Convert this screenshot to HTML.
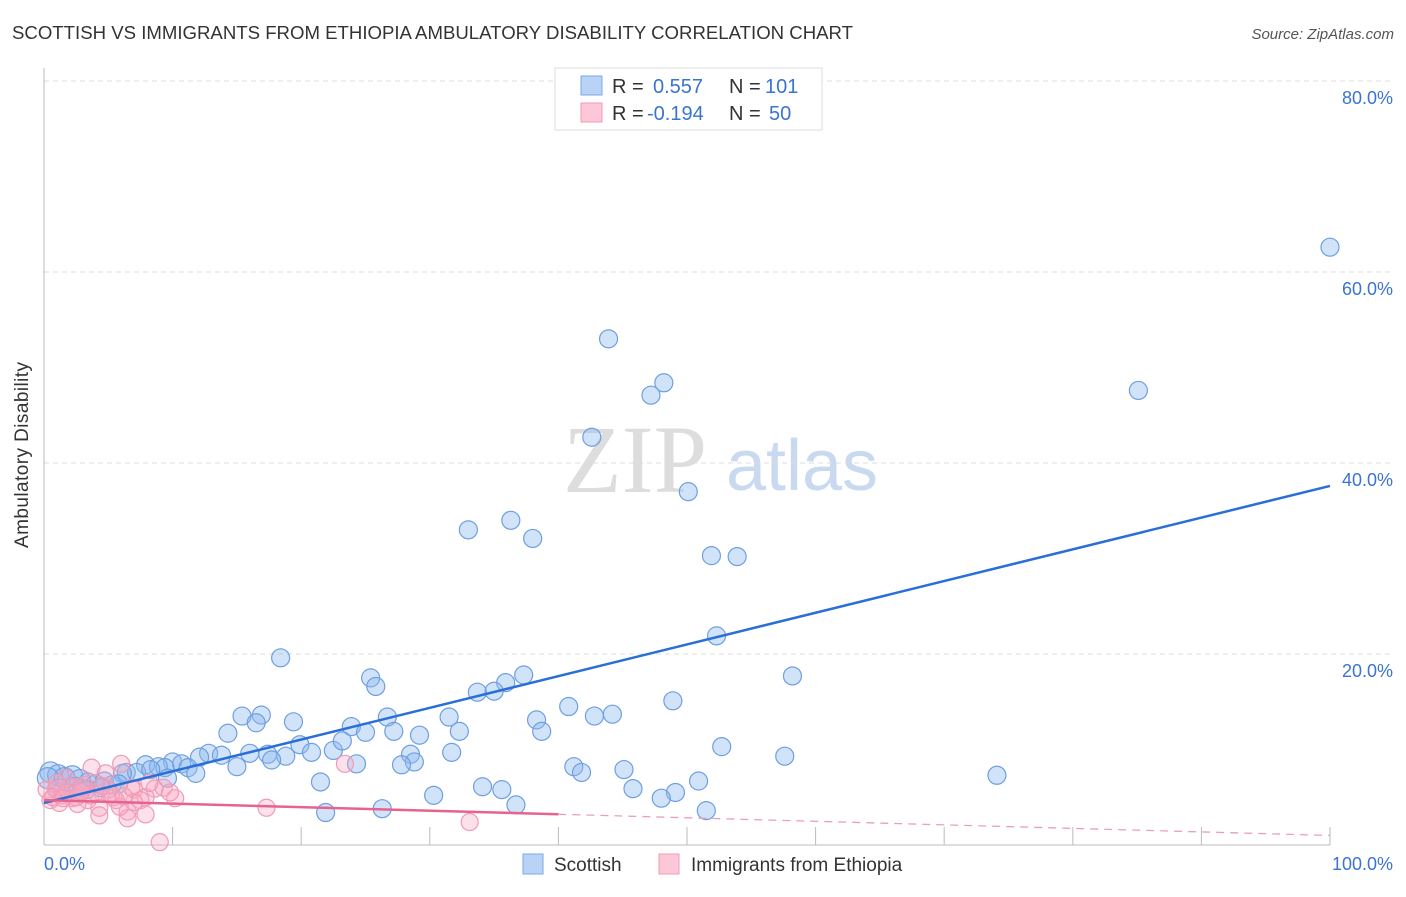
<!DOCTYPE html>
<html><head><meta charset="utf-8"><style>
body{margin:0;background:#fff;font-family:"Liberation Sans",sans-serif}
svg text{font-family:"Liberation Sans",sans-serif}
</style></head><body>
<svg id="chart" width="1406" height="892" xmlns="http://www.w3.org/2000/svg">
<text x="12" y="39" font-size="18" fill="#333" textLength="841" lengthAdjust="spacingAndGlyphs">SCOTTISH VS IMMIGRANTS FROM ETHIOPIA AMBULATORY DISABILITY CORRELATION CHART</text>
<text x="1394" y="39" font-size="15" fill="#555" font-style="italic" text-anchor="end">Source: ZipAtlas.com</text>
<g>
<text x="635" y="492" font-size="96" fill="#ddd" font-family="Liberation Serif" text-anchor="middle" style="font-family:'Liberation Serif',serif">ZIP</text>
<text x="802" y="490" font-size="72" fill="#c8d9f0" text-anchor="middle">atlas</text>
</g>
<g id="grid"></g>
<g id="axes"></g>
<g id="points"></g>
<g id="lines"></g>
<text x="28" y="455" font-size="19" fill="#333" text-anchor="middle" textLength="186" transform="rotate(-90 28 455)">Ambulatory Disability</text>
<g>
<rect x="555" y="68" width="267" height="62" fill="#fff" stroke="#ddd"/>
<rect x="581" y="76" width="21" height="19" fill="#b8d3f5" stroke="#7aa7e6"/>
<rect x="581" y="103" width="21" height="19" fill="#fcc8d7" stroke="#f09ab5"/>
<text x="612" y="93" font-size="20" fill="#333">R = </text><text x="653" y="93" font-size="20" fill="#3a74d0">0.557</text>
<text x="729" y="93" font-size="20" fill="#333">N = </text><text x="765" y="93" font-size="20" fill="#3a74d0">101</text>
<text x="612" y="120" font-size="20" fill="#333">R = </text><text x="647" y="120" font-size="20" fill="#3a74d0">-0.194</text>
<text x="729" y="120" font-size="20" fill="#333">N = </text><text x="769" y="120" font-size="20" fill="#3a74d0">50</text>
</g>
<g>
<rect x="523" y="854" width="20" height="20" fill="#b8d3f5" stroke="#7aa7e6"/>
<text x="554" y="871" font-size="19" fill="#333">Scottish</text>
<rect x="659" y="854" width="20" height="20" fill="#fcc8d7" stroke="#f09ab5"/>
<text x="691" y="871" font-size="19" fill="#333">Immigrants from Ethiopia</text>
</g>
</svg>
<script>
const blueX=[100,85.1,43.9,48.2,47.2,42.6,50.1,33.0,36.3,38.0,51.9,53.9,52.3,18.4,58.2,25.4,25.8,37.3,35.9,33.7,35.0,48.9,40.8,42.8,44.2,38.3,38.7,31.5,32.3,26.7,27.2,29.2,23.9,25.0,15.4,16.9,16.5,19.4,14.3,19.9,20.8,22.5,23.2,28.5,31.7,28.8,27.8,24.3,52.7,57.6,17.4,18.8,17.7,16.0,12.8,13.8,12.1,15.0,10.0,10.7,11.2,11.8,7.9,8.9,9.4,6.4,7.2,8.3,6.1,9.6,41.2,41.8,45.1,50.9,74.1,21.5,34.1,35.6,45.8,49.1,48.0,30.3,36.7,51.5,21.9,26.3,0.5,1.1,1.6,2.2,2.8,3.4,4.0,4.7,5.3,1.2,2.4,4.4,5.8,3.3,0.3];
const blueY=[62.6,47.6,53.0,48.4,47.1,42.7,37.0,33.0,34.0,32.1,30.3,30.2,21.9,19.6,17.7,17.5,16.6,17.8,17.0,16.0,16.1,15.1,14.5,13.5,13.7,13.1,11.9,13.4,11.9,13.4,11.9,11.5,12.4,11.8,13.5,13.6,12.8,12.9,11.7,10.5,9.7,9.9,10.9,9.5,9.7,8.7,8.4,8.5,10.3,9.3,9.5,9.3,8.9,9.6,9.6,9.4,9.2,8.2,8.7,8.5,8.1,7.5,8.4,8.2,8.1,7.6,7.6,7.9,7.5,7.0,8.2,7.6,7.9,6.7,7.3,6.6,6.1,5.8,5.9,5.5,4.9,5.2,4.2,3.6,3.4,3.8,7.6,7.3,7.0,7.2,6.8,6.6,6.4,6.7,6.3,5.8,6.0,6.0,6.4,5.8,7.0];
const pinkX=[3.7,6.0,23.4,1.7,4.8,8.6,9.3,7.0,10.2,7.9,5.4,17.3,4.3,6.5,4.3,6.5,7.9,33.1,9.0,0.9,1.4,2.2,2.8,3.4,5.6,7.5,3.6,0.5,2.6,1.2,2.0,3.1,5.0,8.2,5.9,7.0,0.2,1.0,1.8,4.0,6.8,2.5,3.0,4.5,0.7,9.8,1.5,5.2,6.2,2.9];
const pinkY=[8.1,8.5,8.5,7.0,7.5,5.9,6.0,5.8,4.9,5.0,5.0,3.9,3.9,3.5,3.1,2.8,3.2,2.4,0.3,5.8,5.2,4.9,5.4,4.7,4.7,4.7,5.2,4.7,4.3,4.4,6.1,6.3,5.8,6.5,4.0,4.5,5.8,6.5,5.5,5.5,6.0,5.0,6.0,6.2,5.0,5.5,4.9,5.3,5.1,5.6];
const blueTrend=[4.4,37.6];
const pinkTrend=[4.7,1.0];
const yTicks=[20,40,60,80];
const yTickLabels=["20.0%","40.0%","60.0%","80.0%"];
const xTickLabels=["0.0%","100.0%"];
const NS="http://www.w3.org/2000/svg";
const sx=v=>44+v*12.86, sy=v=>845-v*9.55;
function mk(parent,tag,attrs){const e=document.createElementNS(NS,tag);for(const k in attrs)e.setAttribute(k,attrs[k]);document.getElementById(parent).appendChild(e);return e;}
yTicks.forEach((t,i)=>{
 const l=mk('grid','line',{x1:44,x2:1394,y1:sy(t),y2:sy(t),stroke:'#ddd','stroke-dasharray':'5,4'});
 
 
 const tx=mk('grid','text',{x:1393,y:sy(t)+23,'font-size':18,fill:'#3a74d0','text-anchor':'end'});
 tx.textContent=yTickLabels[i];
 
 
});
const ax=mk('axes','line',{x1:44,x2:44,y1:68,y2:845,stroke:'#bbb'});


const bx=mk('axes','line',{x1:44,x2:1330,y1:845,y2:845,stroke:'#bbb'});


for(let i=1;i<=10;i++){const t=mk('axes','line',{x1:sx(i*10),x2:sx(i*10),y1:827,y2:845,stroke:'#bbb'});
 
 }
const xl0=mk('axes','text',{x:44,y:870,'font-size':18,fill:'#3a74d0'});xl0.textContent=xTickLabels[0];


const xl1=mk('axes','text',{x:1393,y:870,'font-size':18,fill:'#3a74d0','text-anchor':'end'});xl1.textContent=xTickLabels[1];


blueX.forEach((x,i)=>{const c=mk('points','circle',{cx:sx(x),cy:sy(blueY[i]),r:x<3?10.5:9,fill:'rgba(140,185,240,0.4)',stroke:'#6f9fe0','stroke-width':1.2});
 
 });
pinkX.forEach((x,i)=>{const c=mk('points','circle',{cx:sx(x),cy:sy(pinkY[i]),r:8.5,fill:'rgba(248,170,195,0.35)',stroke:'#f09ab5','stroke-width':1.2});
 
 });
const bl=mk('lines','line',{x1:sx(0),y1:sy(blueTrend[0]),x2:sx(100),y2:sy(blueTrend[1]),stroke:'#2a6fd6','stroke-width':2.5});


const ps=40, pv=pinkTrend[0]+(pinkTrend[1]-pinkTrend[0])*ps/100;
const pl=mk('lines','line',{x1:sx(0),y1:sy(pinkTrend[0]),x2:sx(ps),y2:sy(pv),stroke:'#e8628f','stroke-width':2.5});


const pd=mk('lines','line',{x1:sx(ps),y1:sy(pv),x2:sx(100),y2:sy(pinkTrend[1]),stroke:'#e8a0b8','stroke-width':1.3,'stroke-dasharray':'8,6'});


</script>
</body></html>
